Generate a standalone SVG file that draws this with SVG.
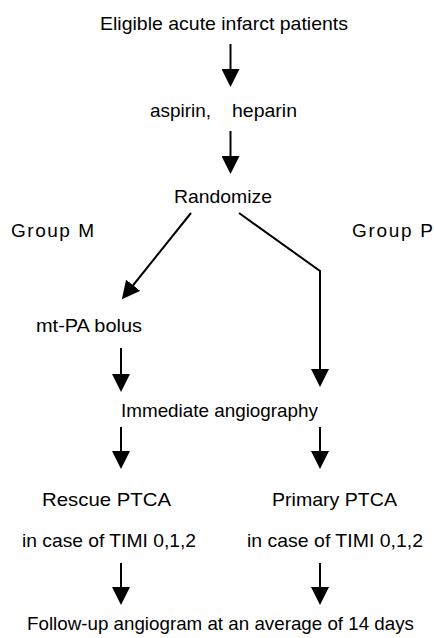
<svg xmlns="http://www.w3.org/2000/svg" width="434" height="638" viewBox="0 0 434 638">
  <style>
    text { font-family: "Liberation Sans", Arial, Helvetica, sans-serif; font-size: 19px; fill: #000; }
    .c { fill: none; stroke: #000; stroke-width: 2; marker-end: url(#ah); }
  </style>
  <defs>
    <marker id="ah" viewBox="0 0 18 18" refX="1" refY="9" markerWidth="18" markerHeight="18" markerUnits="userSpaceOnUse" orient="auto">
      <path d="M0,0 L18,9 L0,18 Z" fill="#000"/>
    </marker>
  </defs>
  <rect width="434" height="638" fill="#fff"/>

  <g id="connectors">
    <line class="c" x1="230.5" y1="44" x2="230.5" y2="70"/>
    <line class="c" x1="230.5" y1="131" x2="230.5" y2="157"/>
    <line class="c" x1="191" y1="213" x2="132.5" y2="286"/>
    <polyline class="c" points="239,213 320,271 320,370"/>
    <line class="c" x1="121" y1="348" x2="121" y2="375"/>
    <line class="c" x1="121" y1="427" x2="121" y2="452"/>
    <line class="c" x1="320" y1="427" x2="320" y2="452"/>
    <line class="c" x1="121" y1="563" x2="121" y2="588"/>
    <line class="c" x1="320" y1="563" x2="320" y2="588"/>
  </g>

  <g id="eligible"><text x="100" y="30" textLength="248" lengthAdjust="spacingAndGlyphs">Eligible acute infarct patients</text></g>
  <g id="aspirin"><text x="150" y="117" textLength="61" lengthAdjust="spacingAndGlyphs">aspirin,</text><text x="232" y="117" textLength="65" lengthAdjust="spacingAndGlyphs">heparin</text></g>
  <g id="randomize"><text x="174" y="203" textLength="98" lengthAdjust="spacingAndGlyphs">Randomize</text></g>
  <g id="groupM"><text x="11" y="237" textLength="83" lengthAdjust="spacing">Group M</text></g>
  <g id="groupP"><text x="352" y="237" textLength="81" lengthAdjust="spacing">Group P</text></g>
  <g id="mtpa"><text x="36" y="332" textLength="106" lengthAdjust="spacingAndGlyphs">mt-PA bolus</text></g>
  <g id="angiography"><text x="121" y="417" textLength="197" lengthAdjust="spacingAndGlyphs">Immediate angiography</text></g>
  <g id="rescue"><text x="42" y="506" textLength="129" lengthAdjust="spacingAndGlyphs">Rescue PTCA</text><text x="22" y="547" textLength="174" lengthAdjust="spacingAndGlyphs">in case of TIMI 0,1,2</text></g>
  <g id="primary"><text x="272" y="506" textLength="125" lengthAdjust="spacingAndGlyphs">Primary PTCA</text><text x="247" y="547" textLength="176" lengthAdjust="spacingAndGlyphs">in case of TIMI 0,1,2</text></g>
  <g id="followup"><text x="27" y="630" textLength="387" lengthAdjust="spacingAndGlyphs">Follow-up angiogram at an average of 14 days</text></g>
</svg>
